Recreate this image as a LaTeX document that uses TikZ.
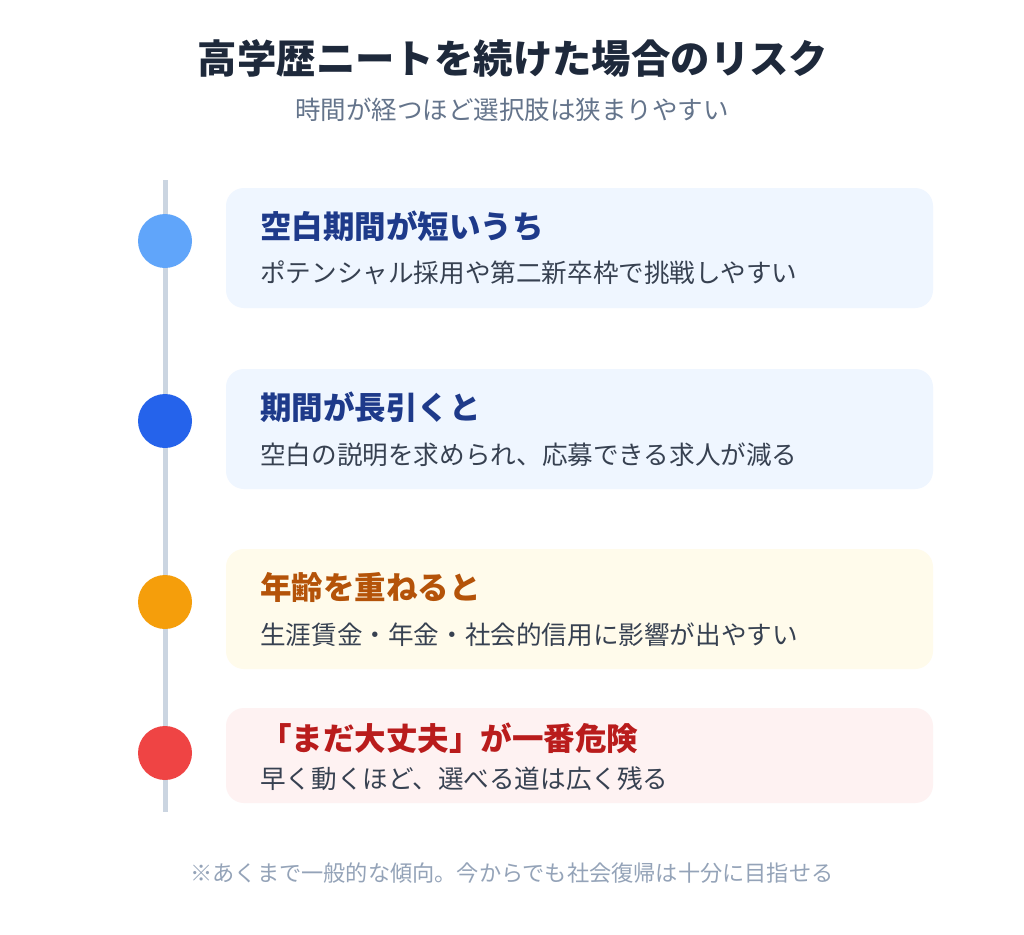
\documentclass[tikz,border=0pt]{standalone}
\usepackage{fontspec}
\setmainfont{Noto Sans CJK JP}
\definecolor{titlecol}{HTML}{1E293B}
\definecolor{subcol}{HTML}{64748B}
\definecolor{notecol}{HTML}{94A3B8}
\definecolor{linecol}{HTML}{CBD5E1}
\definecolor{desccol}{HTML}{374151}
\definecolor{dotA}{HTML}{60A5FA}
\definecolor{dotB}{HTML}{2563EB}
\definecolor{dotC}{HTML}{F59E0B}
\definecolor{dotD}{HTML}{EF4444}
\definecolor{cardblue}{HTML}{EFF6FF}
\definecolor{cardyellow}{HTML}{FFFBEB}
\definecolor{cardred}{HTML}{FEF2F2}
\definecolor{headblue}{HTML}{1E3A8A}
\definecolor{headamber}{HTML}{B45309}
\definecolor{headred}{HTML}{B91C1C}
\begin{document}
\begin{tikzpicture}[
x=1pt, y=-1pt,
card/.style={rounded corners=18pt},
dot/.style={circle, minimum size=54pt, inner sep=0pt},
heading/.style={anchor=west, inner sep=0pt, font=\fontsize{31.5}{37}\selectfont\bfseries},
desc/.style={anchor=west, inner sep=0pt, text=desccol, font=\fontsize{25.6}{30}\selectfont}
]
\useasboundingbox[fill=white] (0,0) rectangle (1024,934);

% title
\node[inner sep=0pt, text=titlecol, font=\fontsize{39.4}{46}\selectfont\bfseries] (title) at (513,58) {高学歴ニートを続けた場合のリスク};
\node[inner sep=0pt, text=subcol, font=\fontsize{25.5}{30}\selectfont] (subtitle) at (512,110) {時間が経つほど選択肢は狭まりやすい};

% timeline
\coordinate (top) at (165,180);
\coordinate (bottom) at (165,812);
\draw[linecol, line width=5pt] (top) -- (bottom);

% cards
\fill[cardblue, card] (226,188) rectangle (933,308);
\fill[cardblue, card] (226,369) rectangle (933,489);
\fill[cardyellow, card] (226,549) rectangle (933,669);
\fill[cardred, card] (226,708) rectangle (933,803);

% dots
\node[dot, fill=dotA] (d1) at (165,241) {};
\node[dot, fill=dotB] (d2) at (165,421) {};
\node[dot, fill=dotC] (d3) at (165,602) {};
\node[dot, fill=dotD] (d4) at (165,753) {};

% texts
\node[heading, text=headblue] (h1) at (260,226) {空白期間が短いうち};
\node[desc] (t1) at (260,273) {ポテンシャル採用や第二新卒枠で挑戦しやすい};
\node[heading, text=headblue] (h2) at (260,407) {期間が長引くと};
\node[desc] (t2) at (260,455) {空白の説明を求められ、応募できる求人が減る};
\node[heading, text=headamber] (h3) at (260,587) {年齢を重ねると};
\node[desc] (t3) at (260,635) {生涯賃金・年金・社会的信用に影響が出やすい};
\node[heading, text=headred] (h4) at (260,738) {「まだ大丈夫」が一番危険};
\node[desc] (t4) at (260,779) {早く動くほど、選べる道は広く残る};

% note
\node[inner sep=0pt, text=notecol, font=\fontsize{22.2}{27}\selectfont] (note) at (512,873) {※あくまで一般的な傾向。今からでも社会復帰は十分に目指せる};
\end{tikzpicture}
\end{document}
